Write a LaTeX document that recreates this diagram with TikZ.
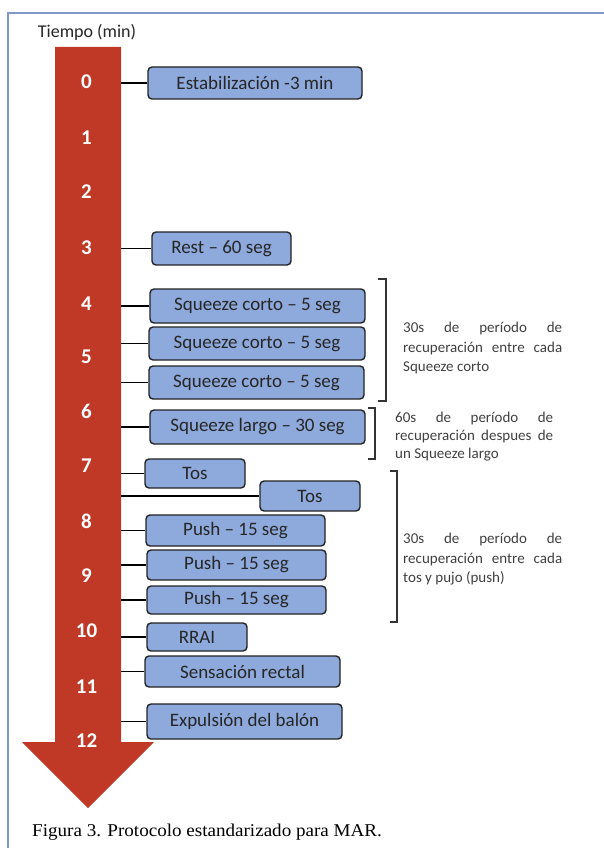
\documentclass[tikz,border=0pt]{standalone}
\usepackage{fontspec}
\setmainfont{Carlito}
\newfontfamily\capfont[FakeStretch=1.06]{Liberation Serif}
\definecolor{arrowred}{RGB}{192,57,38}
\definecolor{boxblue}{RGB}{142,169,219}
\definecolor{framecol}{RGB}{127,152,200}
\definecolor{boxline}{RGB}{35,35,35}
\tikzset{
  evbox/.style={draw=boxline, line width=1.4pt, fill=boxblue, rounded corners=4pt, inner sep=0pt, font=\fontsize{19}{22}\selectfont, text=black!85},
  tick/.style={text=white, font=\fontsize{21}{24}\selectfont\bfseries},
  conn/.style={draw=black, line width=1.1pt},
  brk/.style={draw=black!80, line width=1.1pt},
  sidetext/.style={anchor=north west, inner sep=0pt, font=\fontsize{15}{19.5}\selectfont, text=black!75, align=left}
}
\newcommand{\jl}[1]{\makebox[159pt][s]{#1}}
\begin{document}
\begin{tikzpicture}[x=1pt,y=-1pt]
\useasboundingbox (0,0) rectangle (604,848);
% frame
\draw[framecol, line width=2pt] (8,848) -- (8,13) -- (604,13);
% caption
\node[anchor=west, inner sep=0pt, font=\capfont\fontsize{18}{20}\selectfont] (cap) at (32,832) {Figura 3. Protocolo estandarizado para MAR.};
% title
\node[font=\fontsize{18}{20}\selectfont, text=black!85] (title) at (87,32) {Tiempo (min)};
% arrow
\fill[arrowred] (55,47) -- (121,47) -- (121,742) -- (154,742) -- (88,808) -- (22,742) -- (55,742) -- cycle;
% ticks
\foreach \n/\y in {0/82,1/138,2/192,3/248,4/304,5/357,6/411,7/466,8/521,9/576,10/631,11/687,12/741}
  \node[tick] (n\n) at (86.5,\y) {\n};
% boxes
\node[evbox, minimum width=214pt, minimum height=32pt] (b0) at (255,83) {Estabilización -3 min};
\node[evbox, minimum width=139pt, minimum height=33pt] (b1) at (221.5,248.5) {Rest -- 60 seg};
\node[evbox, minimum width=215pt, minimum height=34pt] (b2) at (257.5,306) {Squeeze corto -- 5 seg};
\node[evbox, minimum width=216pt, minimum height=33pt] (b3) at (257,343.5) {Squeeze corto -- 5 seg};
\node[evbox, minimum width=215pt, minimum height=33pt] (b4) at (256.5,382.5) {Squeeze corto -- 5 seg};
\node[evbox, minimum width=215pt, minimum height=34pt] (b5) at (257.5,427) {Squeeze largo -- 30 seg};
\node[evbox, minimum width=100pt, minimum height=29pt] (b6) at (195,473.5) {Tos};
\node[evbox, minimum width=100pt, minimum height=30pt] (b7) at (310,496) {Tos};
\node[evbox, minimum width=179pt, minimum height=31pt] (b8) at (235.5,530.5) {Push -- 15 seg};
\node[evbox, minimum width=179pt, minimum height=30pt] (b9) at (236.5,565) {Push -- 15 seg};
\node[evbox, minimum width=179pt, minimum height=28pt] (b10) at (236.5,600) {Push -- 15 seg};
\node[evbox, minimum width=100pt, minimum height=28pt] (b11) at (197,637) {RRAI};
\node[evbox, minimum width=195pt, minimum height=31pt] (b12) at (242.5,671.5) {Sensación rectal};
\node[evbox, minimum width=195pt, minimum height=35pt] (b13) at (244.5,721.5) {Expulsión del balón};
% connectors
\foreach \b in {b0,b1,b2,b3,b4,b5,b6,b7,b8,b9,b10,b11,b12,b13}{
  \coordinate (s\b) at (\b.west -| 121,0);
  \draw[conn] (s\b) -- (\b.west);
}
% brackets
\coordinate (k1a) at (378,279); \coordinate (k1b) at (386,279);
\coordinate (k1c) at (386,401); \coordinate (k1d) at (378,401);
\draw[brk] (k1a) -- (k1b) -- (k1c) -- (k1d);
\coordinate (k2a) at (368,408); \coordinate (k2b) at (375,408);
\coordinate (k2c) at (375,459); \coordinate (k2d) at (368,459);
\draw[brk] (k2a) -- (k2b) -- (k2c) -- (k2d);
\coordinate (k3a) at (390,471); \coordinate (k3b) at (397,471);
\coordinate (k3c) at (397,622); \coordinate (k3d) at (390,622);
\draw[brk] (k3a) -- (k3b) -- (k3c) -- (k3d);
% side texts
\node[sidetext] (t1) at (403,322) {\jl{30s de período de}\\\jl{recuperación entre cada}\\Squeeze corto};
\node[sidetext, font=\fontsize{15}{18}\selectfont] (t2) at (395,412) {\makebox[158pt][s]{60s de período de}\\\makebox[158pt][s]{recuperación despues de}\\un Squeeze largo};
\node[sidetext] (t3) at (403,533) {\jl{30s de período de}\\\jl{recuperación entre cada}\\tos y pujo (push)};
\end{tikzpicture}
\end{document}
